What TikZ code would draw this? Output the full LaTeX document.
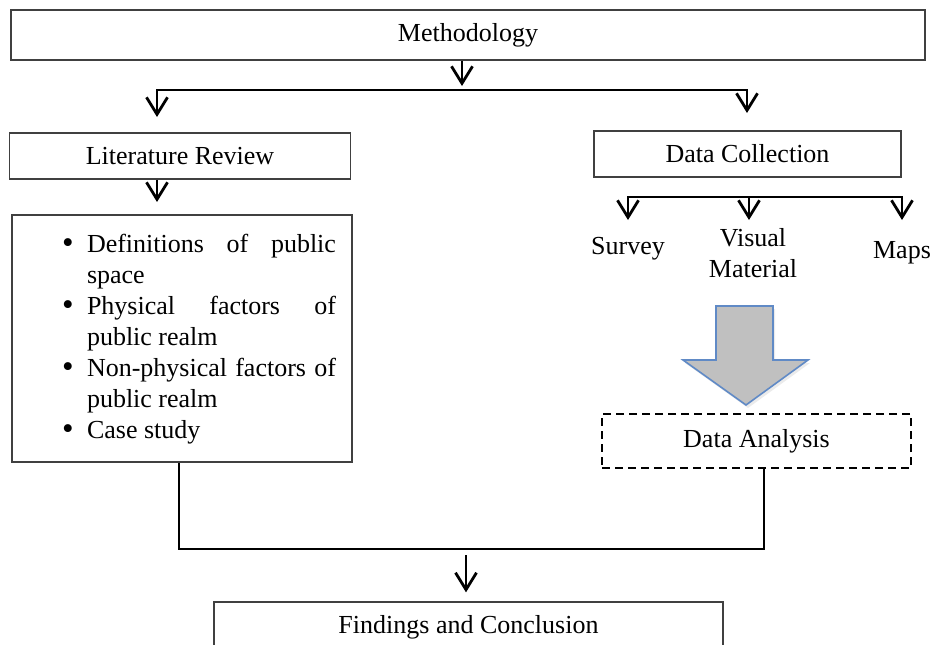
\documentclass[tikz,border=0pt]{standalone}
\usepackage{fontspec}
\setmainfont{Liberation Serif}
\usepackage{xcolor}
\usepackage{tikz}
\usetikzlibrary{arrows.meta,calc}

\definecolor{shaftblue}{RGB}{96,138,198}
\definecolor{shaftgray}{RGB}{192,192,192}

\newcommand\topicitem[1]{\par\noindent\hangindent=59pt\hangafter=1\hspace*{34pt}\makebox[25pt][l]{\raisebox{-1.5pt}{\fontsize{33}{31}\selectfont\textbullet}}#1\par}

\begin{document}
\begin{tikzpicture}[x=1pt,y=-1pt,
    every node/.style={font=\fontsize{26}{31}\selectfont},
    box/.style={draw=black!75,line width=1.3pt,inner sep=0pt},
    dashbox/.style={box,draw=black,line width=2pt,dash pattern=on 8pt off 5pt},
    lbl/.style={inner sep=0pt,align=center},
    link/.style={line width=2.8pt},
    arr/.style={link,-{Straight Barb[length=17pt,width=21pt]}},
    arrtwo/.style={link,{Straight Barb[length=17pt,width=21pt]}-{Straight Barb[length=17pt,width=21pt]}}]

\clip (0,0) rectangle (932,645);

\node[box,minimum width=914,minimum height=50] (method) at (468,35) {Methodology};
\node[box,minimum width=341,minimum height=46] (litrev) at (180,156) {Literature Review};
\node[box,minimum width=307,minimum height=46] (datacoll) at (747.5,154) {Data Collection};

\node[box,minimum width=340,minimum height=247,text width=308pt,align=justify] (topics) at (182,338.5) {%
    \hyphenpenalty=10000 \tolerance=10000 \hbadness=10000
    \topicitem{Definitions of public\linebreak space}
    \topicitem{Physical factors of\linebreak public realm}
    \topicitem{Non-physical factors of\linebreak public realm}
    \topicitem{Case study}
    \vspace*{12pt}\nointerlineskip\hbox{}};

\node[lbl] (survey) at (628,249) {Survey};
\node[lbl] (visual) at (753,253) {Visual\\Material};
\node[lbl] (maps) at (902,253) {Maps};

\node[dashbox,minimum width=309,minimum height=54] (analysis) at (756.5,441) {Data Analysis};
\node[box,minimum width=509,minimum height=50] (findings) at (468.5,627) {Findings and Conclusion};

\coordinate (topsplit) at (462,90);
\coordinate (litin) at (157,117);
\coordinate (dcin) at (747,113);
\coordinate (topicsin) at (157,202);
\coordinate (dcsplit) at (749,197);
\coordinate (surveyin) at (628,220);
\coordinate (visualin) at (749,220);
\coordinate (mapsin) at (902,220);
\coordinate (joinL) at (179,549);
\coordinate (joinR) at (764,549);
\coordinate (findsplit) at (466,549);

\draw[arr] (method.south -| topsplit) -- ($(topsplit)+(0,-4)$);
\draw[arrtwo] (litin) -- (litin |- topsplit) -- (dcin |- topsplit) -- (dcin);
\draw[arr] (litrev.south -| litin) -- (topicsin);

\draw[arrtwo] (surveyin) -- (surveyin |- dcsplit) -- (mapsin |- dcsplit) -- (mapsin);
\draw[arr] (dcsplit) -- (visualin);

% soft shadow, then the block arrow
\fill[black!8] (718,309) -- (775,309) -- (775,363) -- (810,363) -- (748,408) -- (685,363) -- (718,363) -- cycle;
\draw[draw=shaftblue,fill=shaftgray,line width=1.6pt,line join=miter]
    (716,306) -- (773,306) -- (773,360) -- (808,360) -- (746,405) -- (683,360) -- (716,360) -- cycle;

\draw[link] (topics.south -| joinL) -- (joinL) -- (joinR) -- (analysis.south -| joinR);
\draw[arr] ($(findsplit)+(0,6)$) -- ($(findings.north -| findsplit)+(0,-9)$);

\end{tikzpicture}
\end{document}
